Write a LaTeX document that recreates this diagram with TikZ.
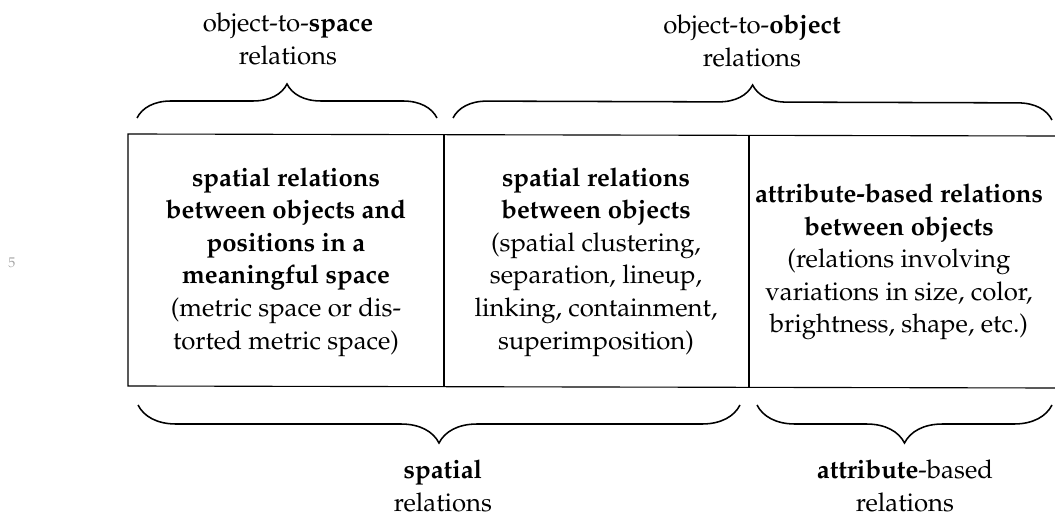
\documentclass[tikz,border=0pt]{standalone}
\usepackage[T1]{fontenc}
\usepackage{mathpazo}
\usepackage{tikz}
\usetikzlibrary{decorations.pathreplacing,positioning}

\begin{document}
\begin{tikzpicture}[x=0.025cm,y=-0.025cm,
every node/.style = {align=center, text centered, inner sep=0pt,
    font=\fontsize{18.3}{23.2}\selectfont},
frame/.style = {line width=0.8pt},
bracetop/.style = {decorate, line width=1.1pt,
    decoration={brace, amplitude=0.85cm}},
bracebot/.style = {decorate, line width=1.1pt,
    decoration={brace, mirror, amplitude=0.95cm}}]
\useasboundingbox (0,0) rectangle (1055,519);
% table
\coordinate (tl) at (128,134);
\coordinate (tr) at (1055,136);
\coordinate (bl) at (128,386);
\coordinate (br) at (1055,388);
\coordinate (d1t) at (444,135);
\coordinate (d1b) at (444,387);
\coordinate (d2t) at (749,136);
\coordinate (d2b) at (749,388);
\draw[frame] (tr) -- (tl) -- (bl) -- (br);
\draw[frame] (d1t) -- (d1b);
\draw[frame] (d2t) -- (d2b);
\node (c1) at (286,262) {\textbf{spatial relations}\\ \textbf{between objects and}\\
  \textbf{positions in a}\\ \textbf{meaningful space}\\
  (metric space or dis-\\ torted metric space)};
\node (c2) at (596,262) {\textbf{spatial relations}\\ \textbf{between objects}\\
  (spatial clustering,\\ separation, lineup,\\ linking, containment,\\ superimposition)};
\node (c3) at (899,262) {\textbf{attribute-based relations}\\ \textbf{between objects}\\
  (relations involving\\ variations in size, color,\\ brightness, shape, etc.)};
% braces
\coordinate (ta1) at (137,118);
\coordinate (ta2) at (437,118);
\coordinate (tb1) at (453,118);
\coordinate (tb2) at (1052,120);
\coordinate (ba1) at (138,405);
\coordinate (ba2) at (740,405);
\coordinate (bb1) at (757,405);
\coordinate (bb2) at (1052,405);
\draw[bracetop] (ta1) -- (ta2);
\draw[bracetop] (tb1) -- (tb2);
\draw[bracebot] (ba1) -- (ba2);
\draw[bracebot] (bb1) -- (bb2);
\node (space) at (288,39) {object-to-\textbf{space}\\ relations};
\node (object) at (752,41) {object-to-\textbf{object}\\ relations};
\node (spatial) at (443,486) {\textbf{spatial}\\ relations};
\node (attr) at (905,486) {\textbf{attribute}-based\\ relations};
\node (ln) at (12,263) {\color{black!35}\fontsize{10}{11}\selectfont 5};
\end{tikzpicture}
\end{document}
